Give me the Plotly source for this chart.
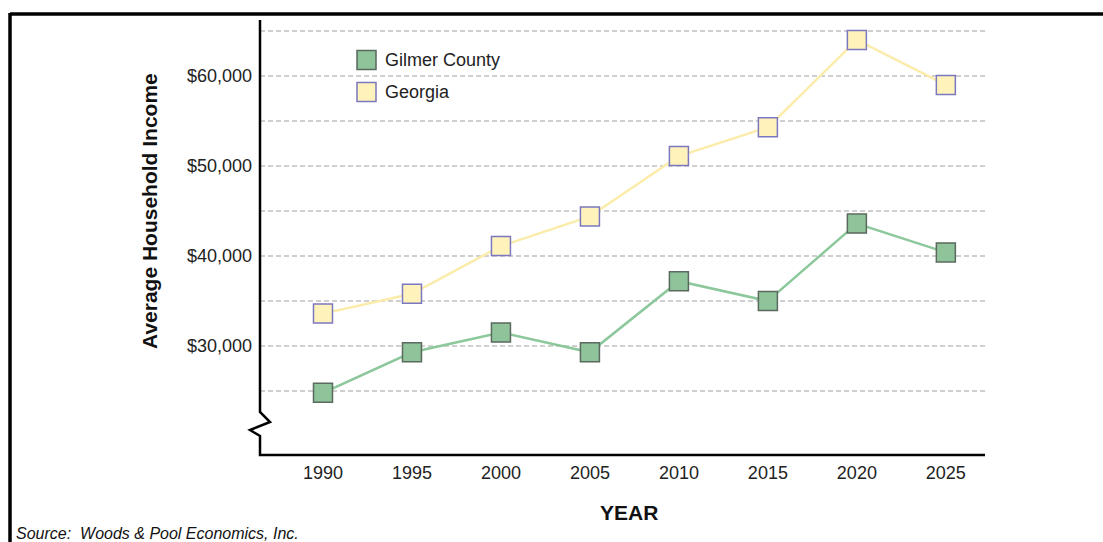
import plotly.graph_objects as go

years = [1990, 1995, 2000, 2005, 2010, 2015, 2020, 2025]
gilmer = [24800, 29300, 31500, 29300, 37200, 35000, 43600, 40400]
georgia = [33600, 35800, 41100, 44400, 51100, 54300, 64000, 59000]
series_names = ["Gilmer County", "Georgia"]
ytick_vals = [30000, 40000, 50000, 60000]
ytick_text = ["$30,000", "$40,000", "$50,000", "$60,000"]
grid_vals = [25000, 35000, 45000, 55000, 65000]

W, H = 1103, 542
L, R, T, B = 260, 985, 20, 455

def px(x):
    return (x - L) / (R - L)

def py(y):
    return (B - y) / (B - T)

fig = go.Figure()

line_cols = ["#8cc89b", "#fcecaa"]
fill_cols = ["#8fc39a", "#fff2bb"]
edge_cols = ["#5a6a5e", "#7b78c0"]

for name, vals, lc, fc, ec in zip(series_names, [gilmer, georgia], line_cols, fill_cols, edge_cols):
    fig.add_trace(go.Scatter(
        x=years, y=vals, mode="lines+markers", name=name, showlegend=False,
        line=dict(color=lc, width=2.5),
        marker=dict(symbol="square", size=19, color=fc, line=dict(color=ec, width=1.5)),
        hoverinfo="skip",
    ))

# axis lines with break
path = (f"M {px(L)},{py(T)} L {px(L)},{py(412)} L {px(270)},{py(422)} "
        f"L {px(250)},{py(430)} L {px(L)},{py(436)} L {px(L)},{py(B)} L {px(R)},{py(B)}")
shapes = [
    dict(type="path", path=path, xref="paper", yref="paper",
         line=dict(color="black", width=2.5)),
    # frame
    dict(type="line", xref="paper", yref="paper", x0=px(10), x1=px(1110), y0=py(14), y1=py(14),
         line=dict(color="black", width=3.5)),
    dict(type="line", xref="paper", yref="paper", x0=px(10), x1=px(10), y0=py(13), y1=py(560),
         line=dict(color="black", width=3.5)),
]

annotations = [
    dict(text="<b>Average Household Income</b>", textangle=-90, xref="paper", yref="paper",
         x=px(150), y=py(211), xanchor="center", yanchor="middle", showarrow=False,
         font=dict(size=21, color="#111")),
    dict(text="<b>YEAR</b>", xref="paper", yref="paper", x=px(629), y=py(512),
         xanchor="center", yanchor="middle", showarrow=False,
         font=dict(size=21, color="#111")),
    dict(text="<i>Source:\u00a0 Woods &amp; Pool Economics, Inc.</i>", xref="paper", yref="paper",
         x=px(14), y=py(533), xanchor="left", yanchor="middle", showarrow=False,
         font=dict(size=16, color="#111")),
]

# manual legend
leg_y = [60, 92]
for name, fc, ec, ly in zip(series_names, fill_cols, edge_cols, leg_y):
    shapes.append(dict(type="rect", xref="paper", yref="paper",
                       x0=px(357), x1=px(376), y0=py(ly - 9.5), y1=py(ly + 9.5),
                       fillcolor=fc, line=dict(color=ec, width=1.5)))
    annotations.append(dict(text=name, xref="paper", yref="paper", x=px(383), y=py(ly),
                            xanchor="left", yanchor="middle", showarrow=False,
                            font=dict(size=18, color="#222")))

fig.update_layout(
    width=W, height=H,
    margin=dict(l=L, r=W - R, t=T, b=H - B),
    paper_bgcolor="white", plot_bgcolor="white",
    font=dict(family="Arial, Liberation Sans, sans-serif", size=14, color="#222"),
    shapes=shapes,
    showlegend=False,
    hovermode=False,
    xaxis=dict(range=[1986.46, 2027.2], tickvals=years, ticks="", showgrid=False,
               zeroline=False, showline=False, ticklabelstandoff=5,
               tickfont=dict(size=18, color="#222")),
    yaxis=dict(range=[17890, 66220], tickvals=ytick_vals, ticktext=ytick_text,
               ticks="", showline=False, zeroline=False, ticklabelstandoff=7,
               showgrid=True, gridcolor="#cfcfcf", gridwidth=1.5, griddash="5px,3px",
               tickfont=dict(size=18, color="#222"),
               minor=dict(tickvals=grid_vals, showgrid=True, gridcolor="#cfcfcf",
                          gridwidth=1.5, griddash="5px,3px")),
    annotations=annotations,
)

fig.write_html("out.html", post_script="document.body.style.margin='0';",
               config={"displayModeBar": False})
